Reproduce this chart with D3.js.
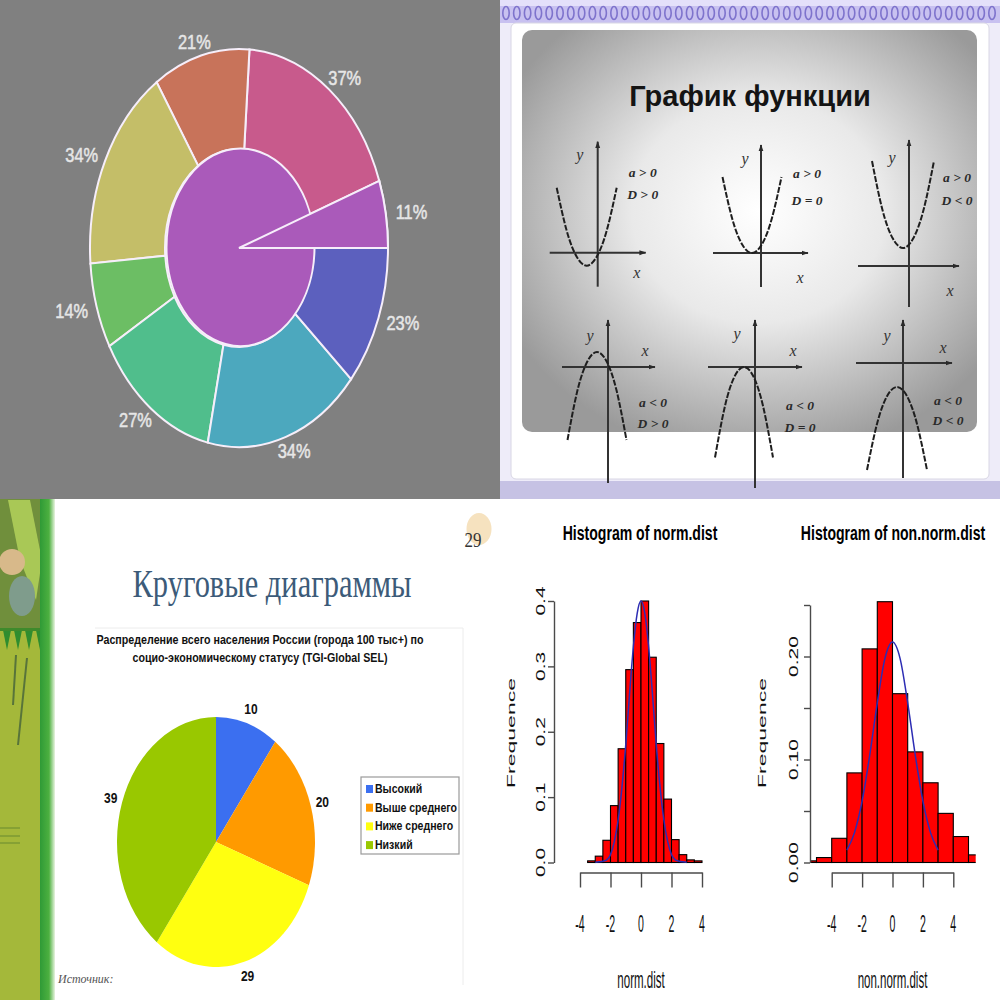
<!DOCTYPE html>
<html><head><meta charset="utf-8">
<script src="https://cdn.jsdelivr.net/npm/d3@7"></script>
<style>body{margin:0;background:#fff}svg{display:block}</style>
</head><body>
<svg id="c" width="1000" height="1000"></svg>
<script>
// ================= DATA =================
// Top-left: ring chart
const ringValues = [11, 37, 21, 34, 14, 27, 34, 23];
const ringLabels = ["11%", "37%", "21%", "34%", "14%", "27%", "34%", "23%"];

// Top-right: "График функции" (quadratic function graphs)
const fnTitle = "График функции";
const fnALabels = ["a > 0", "a > 0", "a > 0", "a < 0", "a < 0", "a < 0"];
const fnDLabels = ["D > 0", "D = 0", "D < 0", "D > 0", "D = 0", "D < 0"];
const parabola1 = [[-4.1,6.5],[-3.1,2.2],[-2.1,-0.4],[-1.1,-1.3],[-0.1,-0.4],[0.9,2.2],[1.9,6.5]];
const parabola2 = [[-3.85,7.6],[-2.87,3.4],[-1.88,0.85],[-0.9,0],[0.08,0.85],[1.07,3.4],[2.05,7.6]];
const parabola3 = [[-3.7,10.5],[-2.67,5.67],[-1.63,2.77],[-0.6,1.8],[0.43,2.77],[1.47,5.67],[2.5,10.5]];
const parabola4 = [[-4.05,-7.3],[-3.07,-2.41],[-2.08,0.52],[-1.1,1.5],[-0.12,0.52],[0.87,-2.41],[1.85,-7.3]];
const parabola5 = [[-4.0,-9.05],[-3.03,-4.02],[-2.07,-1.0],[-1.1,0],[-0.13,-1.0],[0.83,-4.02],[1.8,-9.05]];
const parabola6 = [[-3.6,-10.7],[-2.6,-6.09],[-1.6,-3.32],[-0.6,-2.4],[0.4,-3.32],[1.4,-6.09],[2.4,-10.7]];

// Bottom-left: pie chart
const socioTitle = "Круговые диаграммы";
const socioSubtitle1 = "Распределение всего населения России (города 100 тыс+) по";
const socioSubtitle2 = "социо-экономическому статусу (TGI-Global SEL)";
const socioCategories = ["Высокий", "Выше среднего", "Ниже среднего", "Низкий"];
const socioValues = [10, 20, 29, 39];

// Bottom-right: histograms
const normBreaks = [-3.5,-3,-2.5,-2,-1.5,-1,-0.5,0,0.5,1,1.5,2,2.5,3,3.5,4];
const normDensity = [0.0025,0.0097,0.034,0.087,0.174,0.295,0.367,0.40,0.314,0.182,0.097,0.035,0.012,0.004,0.0025];
const normCurveX = [-3,-2.75,-2.5,-2.25,-2,-1.75,-1.5,-1.25,-1,-0.75,-0.5,-0.25,0,0.25,0.5,0.75,1,1.25,1.5,1.75,2,2.25,2.5,2.75,3];
const normCurveY = [0.0003,0.001,0.002,0.004,0.012,0.032,0.065,0.115,0.18,0.258,0.33,0.381,0.40,0.381,0.33,0.258,0.18,0.115,0.065,0.032,0.012,0.004,0.002,0.001,0.0003];
const nonNormBreaks = [-6,-5,-4,-3,-2,-1,0,1,2,3,4,5,6];
const nonNormDensity = [0.0016,0.0048,0.0235,0.087,0.2074,0.2532,0.1639,0.1074,0.0774,0.0477,0.0252,0.0074];
const nonNormCurveX = [-3,-2.5,-2,-1.5,-1,-0.5,0,0.5,1,1.5,2,2.5,3];
const nonNormCurveY = [0.012,0.029,0.0595,0.104,0.155,0.198,0.214,0.198,0.155,0.104,0.0595,0.029,0.012];
const histXTicks = [-4, -2, 0, 2, 4];
const normYTicks = [0, 0.1, 0.2, 0.3, 0.4];
const normYTickLabels = ["0.0", "0.1", "0.2", "0.3", "0.4"];
const nonNormYTicks = [0, 0.05, 0.1, 0.15, 0.2, 0.25];
const nonNormYTickLabels = ["0.00", "", "0.10", "", "0.20", ""];

// ================= HELPERS =================
const svg = d3.select("#c");
const defs = svg.append("defs");
const SANS = "'Liberation Sans', Arial, sans-serif";
const SERIF = "'Liberation Serif', 'Times New Roman', serif";

function txt(p, x, y, s, o = {}) {
  let tr = `translate(${x},${y})`;
  if (o.sx && o.sx !== 1) tr += ` scale(${o.sx},1)`;
  if (o.rot) tr += ` rotate(${o.rot})`;
  const t = p.append("text").attr("transform", tr)
    .attr("text-anchor", o.anchor || "middle")
    .attr("font-family", o.family || SANS)
    .attr("font-size", o.size || 12)
    .attr("font-weight", o.weight || "normal")
    .attr("font-style", o.fstyle || "normal")
    .attr("fill", o.fill || "#000")
    .text(s);
  if (o.stroke) t.attr("stroke", o.fill || "#000").attr("stroke-width", o.stroke);
  if (o.base) t.attr("dominant-baseline", o.base);
  if (o.len) t.attr("textLength", o.len).attr("lengthAdjust", "spacingAndGlyphs");
  return t;
}

// ================= TOP-LEFT: ring chart =================
const TL = {cx: 239, cy: 248, r: 149, r0: 74, sy: 1.336, labelR: 175, labelSy: 1.22};
const ringColors = ["#aa5aba", "#c85a8c", "#c8735a", "#c4be68", "#6cbe64", "#50be8c", "#4ca8be", "#5c60be"];
svg.append("rect").attr("x", 0).attr("y", 0).attr("width", 500).attr("height", 499).attr("fill", "#808080");

const ringPie = d3.pie().sort(null).startAngle(Math.PI / 2).endAngle(Math.PI / 2 - 2 * Math.PI);
const ringArcs = ringPie(ringValues);
const gTL = svg.append("g").attr("transform", `translate(${TL.cx},${TL.cy}) scale(1,${TL.sy})`);
const outerArc = d3.arc().innerRadius(TL.r0).outerRadius(TL.r);
gTL.selectAll("path.ring").data(ringArcs).join("path").attr("class", "ring")
  .attr("d", outerArc).attr("fill", (d, i) => ringColors[i])
  .attr("stroke", "#f6eefa").attr("stroke-width", 2).attr("vector-effect", "non-scaling-stroke");
gTL.append("circle").attr("cx", 1.5).attr("cy", -0.5).attr("r", TL.r0).attr("fill", ringColors[0])
  .attr("stroke", "#f6eefa").attr("stroke-width", 2).attr("vector-effect", "non-scaling-stroke");
gTL.append("path").attr("d", d3.arc().innerRadius(0).outerRadius(TL.r)(ringArcs[0]))
  .attr("fill", ringColors[0]).attr("stroke", "#f6eefa").attr("stroke-width", 2).attr("vector-effect", "non-scaling-stroke");
const ringLabelArc = d3.arc().innerRadius(TL.labelR).outerRadius(TL.labelR);
ringArcs.forEach((a, i) => {
  const [x, y] = ringLabelArc.centroid(a);
  txt(svg, TL.cx + x, TL.cy + y * TL.labelSy, ringLabels[i], {size: 20, sx: 0.82, fill: "#e6e6e6", stroke: 0.5, base: "central"});
});

// ================= TOP-RIGHT: function graphs =================
svg.append("rect").attr("x", 500).attr("y", 0).attr("width", 500).attr("height", 500).attr("fill", "#eeecf9");
// spiral-binding band
svg.append("rect").attr("x", 500).attr("y", 0).attr("width", 500).attr("height", 23).attr("fill", "#c8c1f0");
svg.append("rect").attr("x", 500).attr("y", 0).attr("width", 500).attr("height", 6).attr("fill", "#e4e0fa");
svg.append("g").selectAll("ellipse").data(d3.range(46)).join("ellipse")
  .attr("cx", i => 506 + i * 10.8).attr("cy", 13).attr("rx", 3.2).attr("ry", 6.5)
  .attr("fill", "none").attr("stroke", "#7e73cc").attr("stroke-width", 1.6);
// white frame
svg.append("rect").attr("x", 511).attr("y", 23).attr("width", 478).attr("height", 456).attr("rx", 5)
  .attr("fill", "#ffffff").attr("stroke", "#d8d6e4").attr("stroke-width", 1);
// bottom band
svg.append("rect").attr("x", 500).attr("y", 481).attr("width", 500).attr("height", 19).attr("fill", "#c6c2e4");
// gray gradient panel
const pg = defs.append("radialGradient").attr("id", "panelGrad").attr("cx", "52%").attr("cy", "45%").attr("r", "62%");
pg.append("stop").attr("offset", "0%").attr("stop-color", "#ffffff");
pg.append("stop").attr("offset", "45%").attr("stop-color", "#e9e9e9");
pg.append("stop").attr("offset", "100%").attr("stop-color", "#9a9a9a");
svg.append("rect").attr("x", 522).attr("y", 30).attr("width", 455).attr("height", 402).attr("rx", 10)
  .attr("fill", "url(#panelGrad)");

txt(svg, 750, 106, fnTitle, {size: 29, weight: "bold", fill: "#141414"});

defs.append("marker").attr("id", "arr").attr("viewBox", "0 0 10 10").attr("refX", 9).attr("refY", 5)
  .attr("markerWidth", 7).attr("markerHeight", 7).attr("markerUnits", "userSpaceOnUse").attr("orient", "auto")
  .append("path").attr("d", "M0,1.5L10,5L0,8.5Z").attr("fill", "#2a2a2a");

const fnLayout = [
  {ox: 597.7, oy: 252.7, xr: [-4.8, 4.8], yr: [-3.4, 11.1], yl: [-18, -98], xl: [39, 20], al: [45, -80], dl: [45, -58]},
  {ox: 761, oy: 253, xr: [-4.8, 4.7], yr: [-3.4, 10.8], yl: [-16, -95], xl: [39, 24], al: [46, -80], dl: [46, -53]},
  {ox: 909, oy: 266, xr: [-5.1, 5.0], yr: [-4.1, 12.6], yl: [-17, -109], xl: [41, 24], al: [48, -89], dl: [48, -66]},
  {ox: 608, oy: 367, xr: [-4.6, 4.7], yr: [-11.6, 4.7], yl: [-18, -32], xl: [37, -17], al: [45, 35], dl: [45, 56]},
  {ox: 755, oy: 367, xr: [-4.7, 4.7], yr: [-12.1, 4.7], yl: [-18, -34], xl: [38, -17], al: [45, 38], dl: [45, 60]},
  {ox: 903, oy: 363, xr: [-4.7, 4.9], yr: [-11.5, 4.3], yl: [-16, -28], xl: [40, -16], al: [45, 37], dl: [45, 57]}
];
const parabolas = [parabola1, parabola2, parabola3, parabola4, parabola5, parabola6];
fnLayout.forEach((L, i) => {
  const x = d3.scaleLinear().domain([0, 1]).range([L.ox, L.ox + 10]);
  const y = d3.scaleLinear().domain([0, 1]).range([L.oy, L.oy - 10]);
  const g = svg.append("g");
  g.append("line").attr("x1", x(L.xr[0])).attr("x2", x(L.xr[1])).attr("y1", y(0)).attr("y2", y(0))
    .attr("stroke", "#333").attr("stroke-width", 2).attr("marker-end", "url(#arr)");
  g.append("line").attr("x1", x(0)).attr("x2", x(0)).attr("y1", y(L.yr[0])).attr("y2", y(L.yr[1]))
    .attr("stroke", "#333").attr("stroke-width", 2).attr("marker-end", "url(#arr)");
  g.append("path").datum(parabolas[i])
    .attr("d", d3.line().x(d => x(d[0])).y(d => y(d[1])).curve(d3.curveNatural))
    .attr("fill", "none").attr("stroke", "#1e1e1e").attr("stroke-width", 2).attr("stroke-dasharray", "6,1.6");
  txt(g, L.ox + L.yl[0], L.oy + L.yl[1], "y", {family: SERIF, fstyle: "italic", size: 16, fill: "#333", base: "central"});
  txt(g, L.ox + L.xl[0], L.oy + L.xl[1], "x", {family: SERIF, fstyle: "italic", size: 16, fill: "#333", base: "central"});
  txt(g, L.ox + L.al[0], L.oy + L.al[1], fnALabels[i], {family: SERIF, fstyle: "italic", weight: "bold", size: 13.5, fill: "#2a2a2a", base: "central"});
  txt(g, L.ox + L.dl[0], L.oy + L.dl[1], fnDLabels[i], {family: SERIF, fstyle: "italic", weight: "bold", size: 13.5, fill: "#2a2a2a", base: "central"});
});

// ================= BOTTOM-LEFT: pie chart slide =================
svg.append("rect").attr("x", 0).attr("y", 499).attr("width", 500).attr("height", 501).attr("fill", "#ffffff");
// decorative green strip
const stripGrad = defs.append("linearGradient").attr("id", "stripGrad").attr("x1", 0).attr("x2", 1).attr("y1", 0).attr("y2", 0);
stripGrad.append("stop").attr("offset", "0%").attr("stop-color", "#2f9a36");
stripGrad.append("stop").attr("offset", "60%").attr("stop-color", "#4db040");
stripGrad.append("stop").attr("offset", "100%").attr("stop-color", "#e8f4e0");
svg.append("rect").attr("x", 0).attr("y", 499).attr("width", 44).attr("height", 501).attr("fill", "#a4b83a");
svg.append("rect").attr("x", 0).attr("y", 499).attr("width", 44).attr("height", 130).attr("fill", "#708f3c");
svg.append("path").attr("d", "M8,500L30,500L42,560L36,600L20,560Z").attr("fill", "#a9c856");
svg.append("circle").attr("cx", 12).attr("cy", 562).attr("r", 13).attr("fill", "#d8b98a");
svg.append("ellipse").attr("cx", 22).attr("cy", 596).attr("rx", 13).attr("ry", 20).attr("fill", "#7f9c8c");
svg.append("g").selectAll("path").data(d3.range(4)).join("path")
  .attr("d", i => `M${3 + i * 11},630L${11 + i * 11},630L${7 + i * 11},650Z`).attr("fill", "#2f8d2f");
svg.append("rect").attr("x", 0).attr("y", 628).attr("width", 44).attr("height", 3).attr("fill", "#3f8a2c");
svg.append("line").attr("x1", 16).attr("y1", 655).attr("x2", 13).attr("y2", 705).attr("stroke", "#58743a").attr("stroke-width", 2);
svg.append("line").attr("x1", 27).attr("y1", 658).attr("x2", 18).attr("y2", 745).attr("stroke", "#58743a").attr("stroke-width", 2);
[828, 836, 843].forEach(yy => svg.append("line").attr("x1", 0).attr("x2", 20).attr("y1", yy).attr("y2", yy).attr("stroke", "#7d9a33").attr("stroke-width", 1.5));
svg.append("rect").attr("x", 40).attr("y", 499).attr("width", 15).attr("height", 501).attr("fill", "url(#stripGrad)");

// page number
svg.append("ellipse").attr("cx", 479).attr("cy", 529).attr("rx", 12.5).attr("ry", 16).attr("fill", "#f6e2bf");
txt(svg, 473, 547, "29", {family: SERIF, size: 20, sx: 0.85, fill: "#333"});
// title
txt(svg, 272, 597, socioTitle, {family: SERIF, size: 41, fill: "#3c5b79", len: 279});
// chart frame (faint)
svg.append("path").attr("d", "M95,628H463V985").attr("fill", "none").attr("stroke", "#ececec").attr("stroke-width", 1);
txt(svg, 260, 644, socioSubtitle1, {size: 12.5, weight: "bold", fill: "#111", len: 327});
txt(svg, 260, 662, socioSubtitle2, {size: 12.5, weight: "bold", fill: "#111", len: 255});

const socioColors = ["#3b6ff0", "#ff9a00", "#ffff10", "#99c800"];
const BL = {cx: 216, cy: 842, r: 125, sx: 0.792, labelR: 140};
const socioPie = d3.pie().sort(null);
const socioArcs = socioPie(socioValues);
const gBL = svg.append("g").attr("transform", `translate(${BL.cx},${BL.cy}) scale(${BL.sx},1)`);
gBL.selectAll("path").data(socioArcs).join("path")
  .attr("d", d3.arc().innerRadius(0).outerRadius(BL.r)).attr("fill", (d, i) => socioColors[i]);
const socioLabelArc = d3.arc().innerRadius(BL.labelR).outerRadius(BL.labelR);
socioArcs.forEach(a => {
  const [x, y] = socioLabelArc.centroid(a);
  txt(svg, BL.cx + x * BL.sx, BL.cy + y, String(a.data), {size: 15, weight: "bold", sx: 0.8, fill: "#111", base: "central"});
});
// legend
svg.append("rect").attr("x", 361).attr("y", 777).attr("width", 98).attr("height", 77)
  .attr("fill", "#fff").attr("stroke", "#9a9a9a").attr("stroke-width", 1.2);
socioCategories.forEach((c, i) => {
  svg.append("rect").attr("x", 366).attr("y", 785 + i * 18.7).attr("width", 7).attr("height", 8).attr("fill", socioColors[i]);
  txt(svg, 375, 793 + i * 18.7, c, {size: 12, weight: "bold", sx: 0.88, anchor: "start", fill: "#111"});
});
txt(svg, 58, 983, "Источник:", {family: SERIF, fstyle: "italic", size: 13, sx: 0.92, anchor: "start", fill: "#555"});

// ================= BOTTOM-RIGHT: histograms =================
svg.append("rect").attr("x", 500).attr("y", 499).attr("width", 500).attr("height", 501).attr("fill", "#ffffff");

function histogram(cfg) {
  const x = d3.scaleLinear().domain([-4, 4]).range(cfg.xRange);
  const y = d3.scaleLinear().domain([0, cfg.yMax]).range(cfg.yRange);
  const g = svg.append("g");
  defs.append("clipPath").attr("id", cfg.id).append("rect")
    .attr("x", cfg.clip[0]).attr("y", 500).attr("width", cfg.clip[1] - cfg.clip[0]).attr("height", 500);
  const bins = cfg.density.map((v, i) => ({x0: cfg.breaks[i], x1: cfg.breaks[i + 1], v}));
  g.append("g").attr("clip-path", `url(#${cfg.id})`).selectAll("rect").data(bins).join("rect")
    .attr("x", d => x(d.x0)).attr("width", d => x(d.x1) - x(d.x0))
    .attr("y", d => y(d.v)).attr("height", d => y(0) - y(d.v))
    .attr("fill", "#ff0000").attr("stroke", "#000").attr("stroke-width", 1.1);
  g.append("path").datum(d3.zip(cfg.curveX, cfg.curveY))
    .attr("d", d3.line().x(d => x(d[0])).y(d => y(d[1])).curve(d3.curveMonotoneX))
    .attr("fill", "none").attr("stroke", "#2d2db4").attr("stroke-width", 1.5);
  g.append("g").attr("transform", `translate(0,${cfg.xAxisY})`)
    .call(d3.axisBottom(x).tickValues(histXTicks).tickSize(15).tickSizeOuter(0).tickFormat(""));
  g.append("g").attr("transform", `translate(${cfg.yAxisX},0)`)
    .call(d3.axisLeft(y).tickValues(cfg.yTicks).tickSize(6).tickSizeOuter(0).tickFormat(""));
  g.selectAll(".domain, .tick line").attr("stroke", "#4a4a4a").attr("stroke-width", 1.4);
  histXTicks.forEach(v => txt(g, x(v), 932, String(v), {size: 23, sx: 0.46, fill: "#111"}));
  cfg.yTicks.forEach((v, i) => {
    if (cfg.yLabels[i]) txt(g, cfg.yLabelX, y(v), cfg.yLabels[i], {size: 21, sx: 0.6, rot: -90, fill: "#111"});
  });
  txt(g, cfg.titleX, 540, cfg.title, {size: 21, weight: "bold", sx: 0.67, fill: "#000"});
  txt(g, cfg.xlabX, 988, cfg.xlab, {size: 24, sx: 0.48, fill: "#111"});
  txt(g, cfg.ylabX, 733, "Frequence", {size: 23, sx: 0.5, rot: -90, fill: "#111"});
}

histogram({
  id: "clipNorm", breaks: normBreaks, density: normDensity, curveX: normCurveX, curveY: normCurveY,
  xRange: [580, 702], yMax: 0.4, yRange: [862.5, 601], clip: [554, 720],
  xAxisY: 872.5, yAxisX: 554, yTicks: normYTicks, yLabels: normYTickLabels, yLabelX: 545,
  title: "Histogram of norm.dist", titleX: 640, xlab: "norm.dist", xlabX: 641, ylabX: 515
});
histogram({
  id: "clipNonNorm", breaks: nonNormBreaks, density: nonNormDensity, curveX: nonNormCurveX, curveY: nonNormCurveY,
  xRange: [831.7, 953.3], yMax: 0.25, yRange: [862.5, 605], clip: [810, 975.7],
  xAxisY: 872.5, yAxisX: 810, yTicks: nonNormYTicks, yLabels: nonNormYTickLabels, yLabelX: 798,
  title: "Histogram of non.norm.dist", titleX: 893, xlab: "non.norm.dist", xlabX: 892.5, ylabX: 766
});
</script>
</body></html>
